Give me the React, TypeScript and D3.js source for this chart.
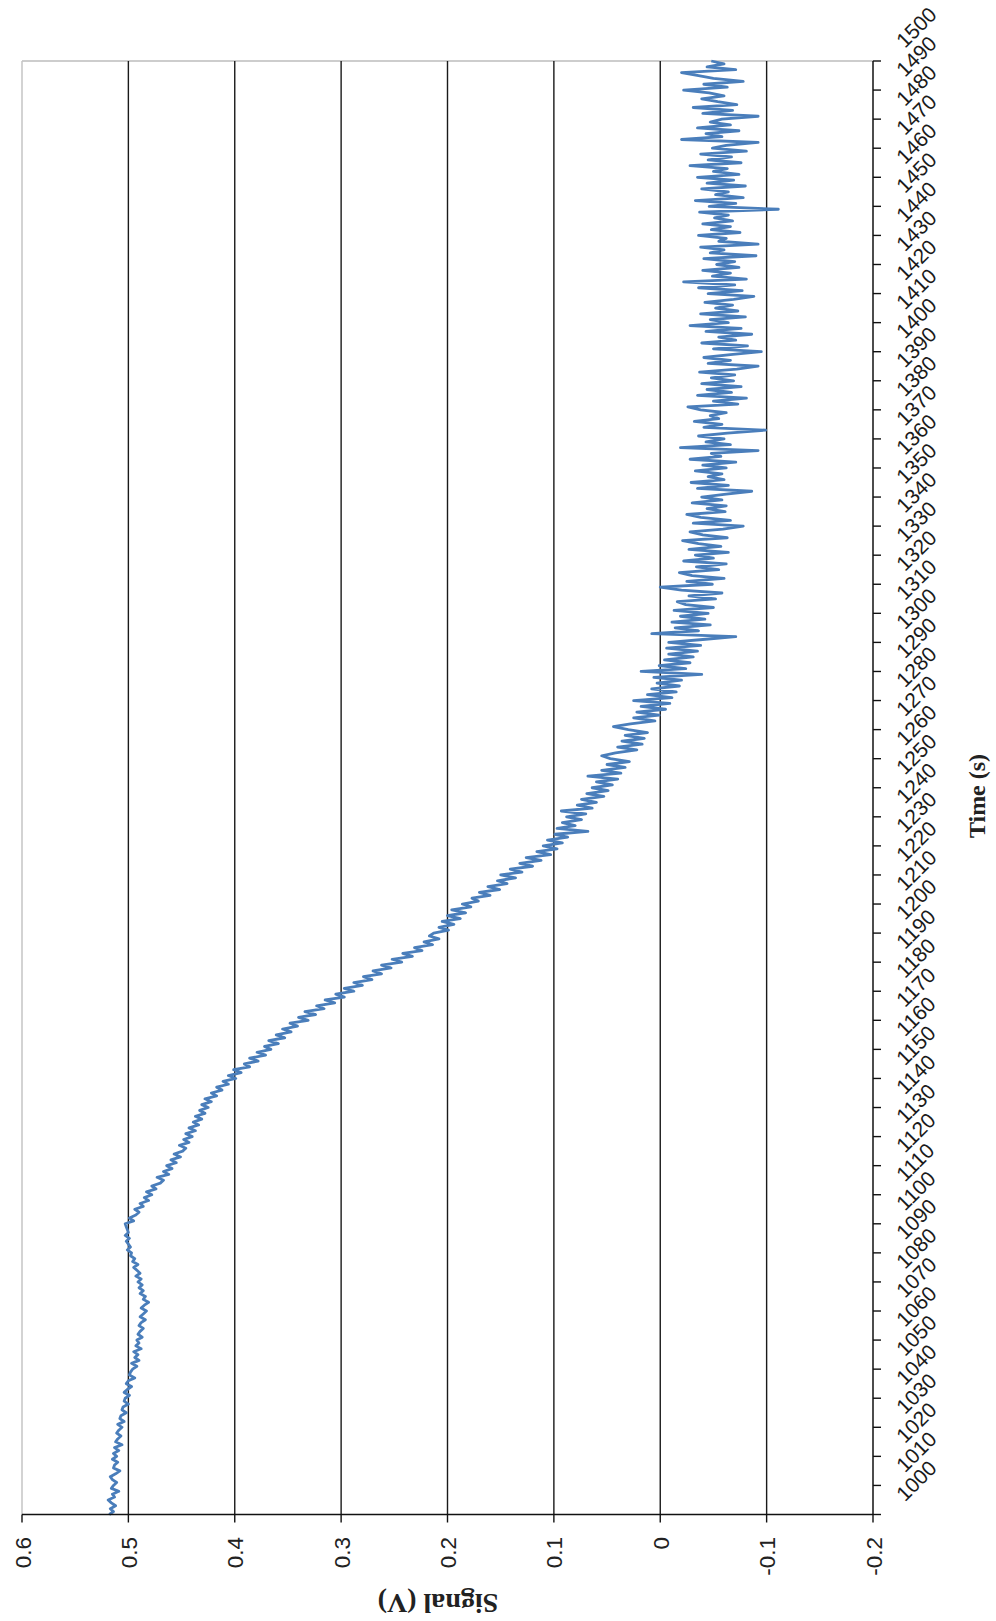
import React from 'react';
import * as d3 from 'd3';

// Signal (mV) per second
const sig1000 = [
  518, 514, 517, 512, 516, 519, 513, 515, 509, 516,
  514, 511, 515, 517, 512, 508, 514, 513, 510, 515,
  511, 514, 509, 513, 506, 512, 510, 507, 511, 509,
  506, 510, 504, 508, 507, 502, 506, 505, 500, 504,
  503, 499, 504, 501, 497, 502, 500, 494, 499, 498,
  496, 492, 497, 490, 494, 491, 495, 488, 493, 490,
  492, 487, 491, 489, 486, 490, 488, 484, 489, 486,
  483, 488, 485, 481, 486, 484, 489, 486, 490, 487,
  491, 488, 493, 489, 492, 495, 491, 496, 494, 498,
  497, 501, 498, 500, 502, 499, 503, 500, 501, 502,
];
const sig1100 = [
  503, 495, 499, 493, 490, 494, 486, 489, 481, 485,
  478, 483, 474, 478, 470, 467, 473, 462, 467, 459,
  464, 455, 460, 451, 457, 449, 446, 452, 443, 448,
  440, 446, 437, 443, 434, 439, 431, 437, 428, 433,
  425, 431, 422, 428, 417, 422, 412, 417, 406, 411,
  399, 406, 394, 401, 386, 391, 378, 386, 371, 379,
  366, 372, 359, 368, 353, 361, 347, 355, 341, 348,
  331, 340, 324, 334, 316, 323, 306, 315, 297, 305,
  288, 297, 280, 288, 271, 279, 262, 270, 253, 262,
  243, 252, 233, 242, 224, 231, 214, 222, 208, 217,
];
const sig1200 = [
  213, 199, 208, 194, 205, 188, 200, 183, 196, 178,
  186, 171, 177, 160, 170, 151, 162, 144, 153, 136,
  150, 130, 141, 120, 132, 112, 126, 103, 116, 97,
  110, 92, 106, 87, 99, 68, 97, 80, 92, 74,
  88, 70, 93, 64, 78, 60, 74, 53, 69, 49,
  64, 45, 60, 40, 68, 37, 55, 33, 50, 29,
  47, 55, 42, 22, 40, 17, 36, 15, 33, 12,
  30, 44, 28, 5, 25, 1, 22, -5, 18, -9,
  25, -11, 12, -15, 8, -18, 3, -20, 6, -39,
  18, -24, 1, -28, -4, -31, -8, -35, -6, -38,
];
const sig1300 = [
  -8, -40, -71, 8, -36, -14, -47, -11, -42, -19,
  -45, -13, -50, -24, -16, -52, -27, -58, -20, 0,
  -49, -25, -60, -30, -18, -55, -34, -62, -22, -50,
  -33, -64, -27, -57, -36, -21, -63, -40, -28, -59,
  -78, -31, -66, -38, -25, -61, -44, -62, -30, -58,
  -39, -62, -86, -35, -64, -29, -60, -45, -58, -33,
  -62, -40, -71, -28, -57, -48, -92, -19, -66, -43,
  -60, -36, -63, -99, -41, -58, -32, -55, -47, -62,
  -38, -26, -73, -50, -81, -35, -67, -44, -76, -39,
  -69, -48, -70, -37, -72, -92, -45, -66, -41, -66,
];
const sig1400 = [
  -95, -50, -82, -39, -71, -55, -86, -43, -76, -28,
  -64, -47, -80, -38, -73, -52, -68, -42, -69, -88,
  -45, -77, -36, -70, -22, -81, -49, -66, -40, -74,
  -53, -70, -41, -90, -47, -60, -38, -92, -55, -62,
  -36, -75, -48, -66, -40, -68, -51, -64, -37, -111,
  -46, -71, -33, -78, -52, -64, -39, -80, -44, -69,
  -35, -74, -50, -63, -28, -76, -45, -67, -38, -81,
  -49, -62, -92, -20, -58, -43, -74, -35, -66, -47,
  -58, -92, -40, -68, -31, -72, -54, -39, -60, -46,
  -22, -63, -41, -78, -50, -36, -20, -71, -44, -60,
  -48,
];

const signalTicks = [0.6, 0.5, 0.4, 0.3, 0.2, 0.1, 0, -0.1, -0.2];
const signalLabels = ['0.6', '0.5', '0.4', '0.3', '0.2', '0.1', '0', '-0.1', '-0.2'];
const gridValues = [0.5, 0.4, 0.3, 0.2, 0.1, 0, -0.1];
const timeTicks = [
  1000, 1010, 1020, 1030, 1040, 1050, 1060, 1070, 1080, 1090,
  1100, 1110, 1120, 1130, 1140, 1150, 1160, 1170, 1180, 1190,
  1200, 1210, 1220, 1230, 1240, 1250, 1260, 1270, 1280, 1290,
  1300, 1310, 1320, 1330, 1340, 1350, 1360, 1370, 1380, 1390,
  1400, 1410, 1420, 1430, 1440, 1450, 1460, 1470, 1480, 1490,
  1500,
];

export default function App() {
  const W = 996, H = 1621;
  const left = 22, right = 873, top = 61, bottom = 1514.5;
  const xS = d3.scaleLinear().domain([-0.2, 0.6]).range([right, left]);
  const yT = d3.scaleLinear().domain([1000, 1500]).range([bottom, top]);
  const all = [...sig1000, ...sig1100, ...sig1200, ...sig1300, ...sig1400];
  const series = all.map((mv, i) => ({ t: 1000 + i, v: mv / 1000 }));
  const path = d3.line<any>().x((d: any) => xS(d.v)).y((d: any) => yT(d.t))(series) || '';
  const sans = 'Liberation Sans, Arial, sans-serif';
  const serif = 'Liberation Serif, Times New Roman, serif';

  return (
    <svg width={W} height={H} style={{ position: 'absolute', left: 0, top: 0, background: '#fff' }}>
      <rect x={0} y={0} width={W} height={H} fill="#fff" />
      {/* plot border (light) */}
      <line x1={left} x2={right} y1={top} y2={top} stroke="#bdbdbd" strokeWidth={1.5} />
      <line x1={left} x2={left} y1={top} y2={bottom} stroke="#c4c4c4" strokeWidth={1.5} />
      {/* gridlines */}
      {gridValues.map((v) => (
        <line key={'g' + v} x1={xS(v)} x2={xS(v)} y1={top} y2={bottom} stroke="#1a1a1a" strokeWidth={1.4} />
      ))}
      {/* data */}
      <path d={path} fill="none" stroke="#4a7ebb" strokeWidth={2.8} strokeLinejoin="round" />
      {/* signal axis */}
      <line x1={left} x2={right} y1={bottom} y2={bottom} stroke="#111" strokeWidth={1.5} />
      {signalTicks.map((v, i) => (
        <g key={'s' + v}>
          <line x1={xS(v)} x2={xS(v)} y1={bottom} y2={bottom + 8} stroke="#111" strokeWidth={1.4} />
          <text
            transform={`translate(${xS(v) + 8.5},1537) rotate(-90)`}
            textAnchor="end"
            fontFamily={sans}
            fontSize={22.5}
            fill="#222"
          >
            {signalLabels[i]}
          </text>
        </g>
      ))}
      {/* time axis */}
      <line x1={right} x2={right} y1={top} y2={bottom} stroke="#111" strokeWidth={1.5} />
      {timeTicks.map((t) => (
        <g key={'t' + t}>
          <line x1={right} x2={right + 8} y1={yT(t)} y2={yT(t)} stroke="#111" strokeWidth={1.4} />
          <text
            transform={`translate(905,${yT(t) - 12}) rotate(-45)`}
            textAnchor="start"
            fontFamily={sans}
            fontSize={21}
            fill="#1a1a1a"
          >
            {t}
          </text>
        </g>
      ))}
      {/* axis titles */}
      <text
        transform="translate(985,796) rotate(-90)"
        textAnchor="middle"
        fontFamily={serif}
        fontWeight="bold"
        fontSize={24}
        fill="#222"
      >
        Time (s)
      </text>
      <text
        transform="translate(438,1594) rotate(180)"
        textAnchor="middle"
        fontFamily={serif}
        fontWeight="bold"
        fontSize={28}
        fill="#222"
      >
        Signal (V)
      </text>
    </svg>
  );
}
